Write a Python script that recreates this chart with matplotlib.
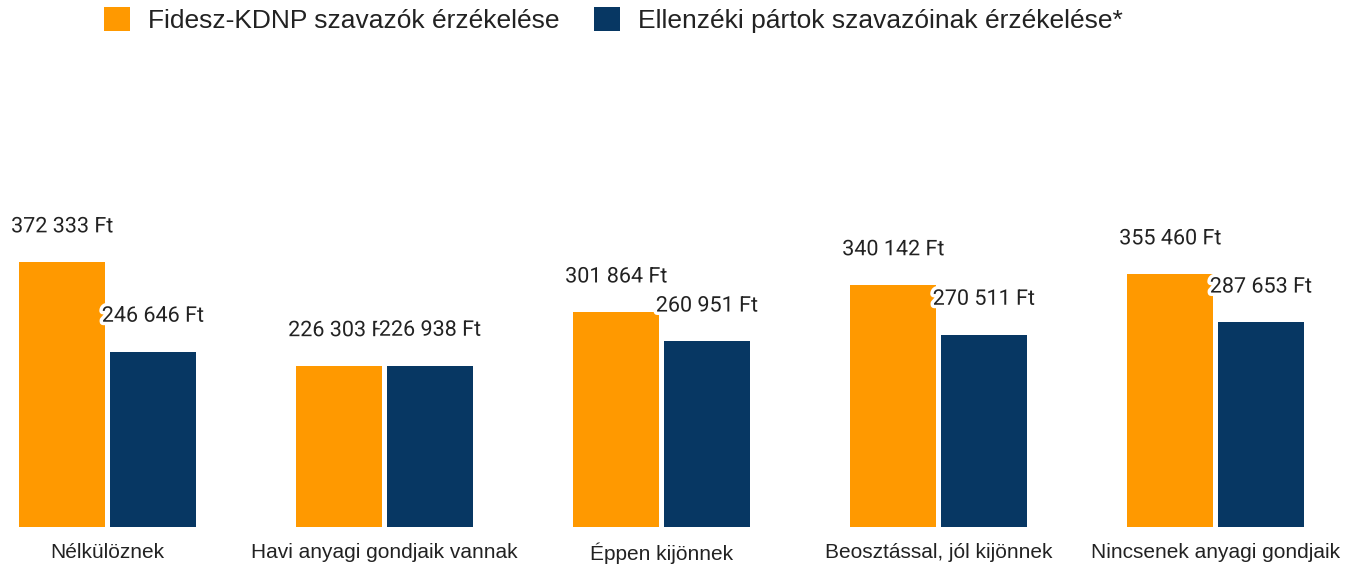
import matplotlib
matplotlib.use("Agg")
import matplotlib.pyplot as plt
import matplotlib.patheffects as pe
import numpy as np

categories = ["Nélkülöznek", "Havi anyagi gondjaik vannak", "Éppen kijönnek",
              "Beosztással, jól kijönnek", "Nincsenek anyagi gondjaik"]
fidesz = [372333, 226303, 301864, 340142, 355460]
ellenzek = [246646, 226938, 260951, 270511, 287653]
series_names = ["Fidesz-KDNP szavazók érzékelése", "Ellenzéki pártok szavazóinak érzékelése*"]
colors = ["#ff9900", "#073763"]

W, H = 1346, 564
fig = plt.figure(figsize=(W / 100, H / 100), dpi=100)
ax_bottom_px = 527
ax_top_px = 60
ax = fig.add_axes([0, 1 - ax_bottom_px / H, 1, (ax_bottom_px - ax_top_px) / H])

px_per_unit = 0.000711
ax.set_ylim(0, (ax_bottom_px - ax_top_px) / px_per_unit)
ax.set_xlim(-107.5 / 277, (W - 107.5) / 277)

x = np.arange(len(categories))
off = 0.1635
width = 0.31

def fmt(v):
    return f"{v:,}".replace(",", " ") + " Ft"

for vals, sgn, col, name in [(fidesz, -1, colors[0], series_names[0]),
                             (ellenzek, 1, colors[1], series_names[1])]:
    ax.bar(x + sgn * off, vals, width=width, color=col, label=name, zorder=2)

for i in range(len(categories)):
    for vals, sgn in [(fidesz, -1), (ellenzek, 1)]:
        t = ax.annotate(fmt(vals[i]), xy=(x[i] + sgn * off, vals[i]),
                        xytext=(0, 25.5), textcoords="offset points",
                        ha="center", va="center", fontsize=15.5, family="Roboto",
                        color="#222222", zorder=5)
        t.set_path_effects([pe.withStroke(linewidth=5, foreground="white")])

ax.set_xticks(x)
ax.set_xticklabels(categories, family="Liberation Sans", fontsize=15, color="#222222")
ax.tick_params(axis="x", length=0, pad=11.5)
ax.set_yticks([])
for s in ax.spines.values():
    s.set_visible(False)

handles, labels = ax.get_legend_handles_labels()
leg = fig.legend(handles, labels, loc="upper left", bbox_to_anchor=(104 / W, 1 - 7 / H),
                 ncol=2, frameon=False, prop={"family": "Liberation Sans", "size": 19},
                 handlelength=1.0, handleheight=1.0, handletextpad=0.68,
                 columnspacing=1.28, borderpad=0, borderaxespad=0)
for t in leg.get_texts():
    t.set_color("#222222")

fig.savefig("out.png", dpi=100)
